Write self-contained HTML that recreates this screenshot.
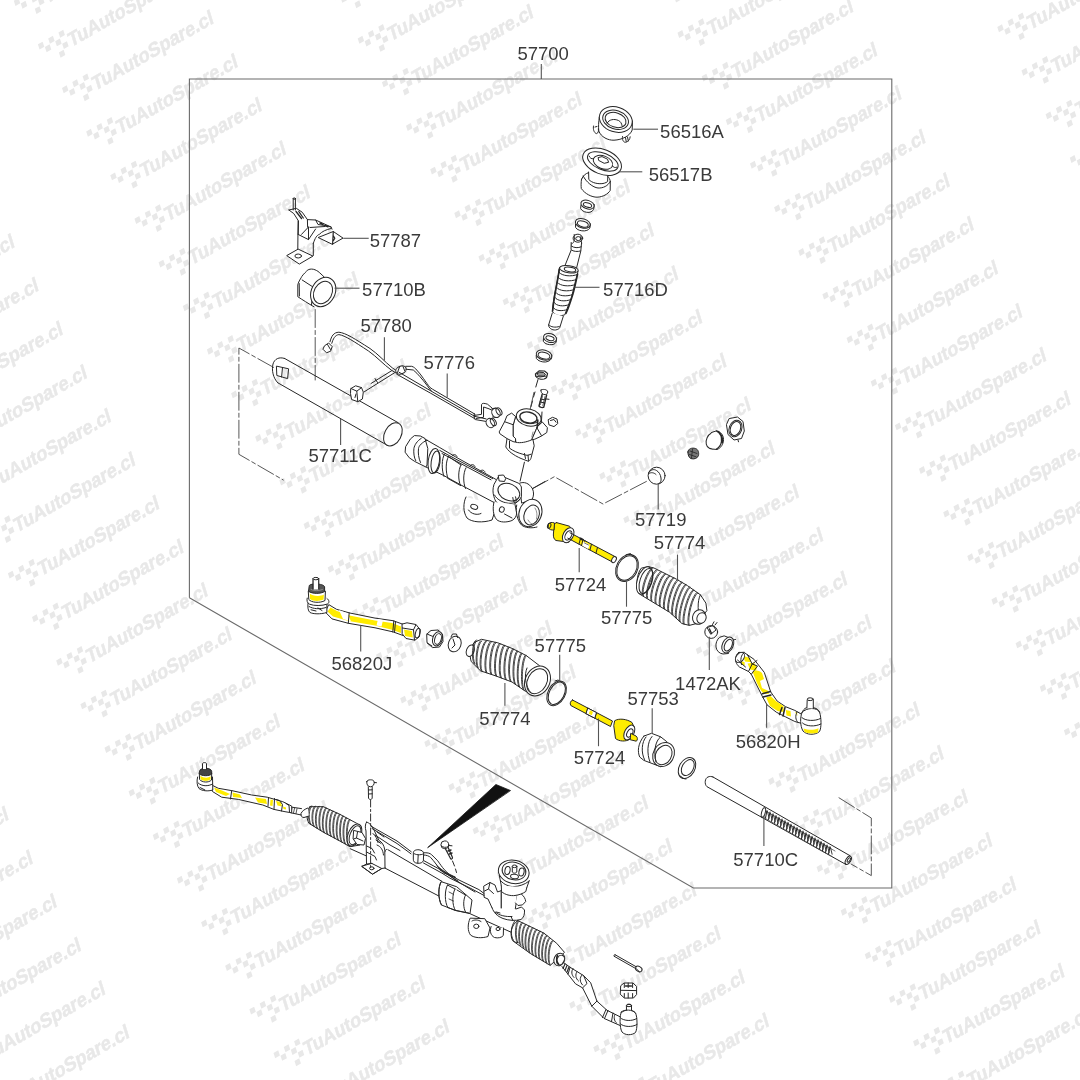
<!DOCTYPE html>
<html><head><meta charset="utf-8"><style>
html,body{margin:0;padding:0;background:#fff;width:1080px;height:1080px;overflow:hidden}
svg{position:absolute;left:0;top:0;display:block}
text{font-family:"Liberation Sans",sans-serif}
</style></head><body>
<svg width="1080" height="1080" viewBox="0 0 1080 1080">
<defs>
<filter id="gs" x="0" y="0" width="1" height="1" color-interpolation-filters="sRGB"><feColorMatrix type="saturate" values="0"/></filter>
<g id="wm" fill="#e8e8e8"><polygon points="-3.22,-1.24 1.52,-3.96 3.22,1.24 -1.52,3.96"/><polygon points="7.08,-7.14 11.82,-9.86 13.52,-4.66 8.78,-1.94"/><polygon points="17.38,-13.04 22.12,-15.76 23.82,-10.56 19.08,-7.84"/><polygon points="3.78,1.46 8.52,-1.26 10.22,3.94 5.48,6.66"/><polygon points="14.08,-4.44 18.82,-7.16 20.52,-1.96 15.78,0.76"/><polygon points="21.08,-1.74 25.82,-4.46 27.52,0.74 22.78,3.46"/><polygon points="17.78,6.86 22.52,4.14 24.22,9.34 19.48,12.06"/><text transform="matrix(0.8678,-0.4970,0.2924,0.9563,0,0)" x="28.4" y="16.8" font-size="20.0" font-weight="bold" stroke="#e8e8e8" stroke-width="0.45" textLength="138.0" lengthAdjust="spacingAndGlyphs">TuAutoSpare.cl</text></g>
</defs>
<rect width="1080" height="1080" fill="#fff"/>
<g filter="url(#gs)">
<use href="#wm" x="-188.0" y="798.4"/>
<use href="#wm" x="-163.8" y="842.0"/>
<use href="#wm" x="-139.7" y="885.6"/>
<use href="#wm" x="-115.5" y="929.2"/>
<use href="#wm" x="-91.4" y="972.8"/>
<use href="#wm" x="-67.2" y="1016.4"/>
<use href="#wm" x="-43.1" y="1060.0"/>
<use href="#wm" x="-18.9" y="1103.6"/>
<use href="#wm" x="-182.1" y="225.8"/>
<use href="#wm" x="-157.9" y="269.4"/>
<use href="#wm" x="-133.8" y="313.0"/>
<use href="#wm" x="-109.7" y="356.6"/>
<use href="#wm" x="-85.5" y="400.2"/>
<use href="#wm" x="-61.3" y="443.8"/>
<use href="#wm" x="-37.2" y="487.4"/>
<use href="#wm" x="-13.1" y="531.0"/>
<use href="#wm" x="11.1" y="574.6"/>
<use href="#wm" x="35.2" y="618.2"/>
<use href="#wm" x="59.4" y="661.8"/>
<use href="#wm" x="83.6" y="705.4"/>
<use href="#wm" x="107.7" y="749.0"/>
<use href="#wm" x="131.8" y="792.6"/>
<use href="#wm" x="156.0" y="836.2"/>
<use href="#wm" x="180.1" y="879.8"/>
<use href="#wm" x="204.3" y="923.4"/>
<use href="#wm" x="228.4" y="967.0"/>
<use href="#wm" x="252.6" y="1010.6"/>
<use href="#wm" x="276.7" y="1054.2"/>
<use href="#wm" x="300.9" y="1097.8"/>
<use href="#wm" x="-7.2" y="-41.6"/>
<use href="#wm" x="17.0" y="2.0"/>
<use href="#wm" x="41.1" y="45.6"/>
<use href="#wm" x="65.2" y="89.2"/>
<use href="#wm" x="89.4" y="132.8"/>
<use href="#wm" x="113.5" y="176.4"/>
<use href="#wm" x="137.7" y="220.0"/>
<use href="#wm" x="161.8" y="263.6"/>
<use href="#wm" x="186.0" y="307.2"/>
<use href="#wm" x="210.1" y="350.8"/>
<use href="#wm" x="234.3" y="394.4"/>
<use href="#wm" x="258.4" y="438.0"/>
<use href="#wm" x="282.6" y="481.6"/>
<use href="#wm" x="306.8" y="525.2"/>
<use href="#wm" x="330.9" y="568.8"/>
<use href="#wm" x="355.1" y="612.4"/>
<use href="#wm" x="379.2" y="656.0"/>
<use href="#wm" x="403.4" y="699.6"/>
<use href="#wm" x="427.5" y="743.2"/>
<use href="#wm" x="451.6" y="786.8"/>
<use href="#wm" x="475.8" y="830.4"/>
<use href="#wm" x="499.9" y="874.0"/>
<use href="#wm" x="524.1" y="917.6"/>
<use href="#wm" x="548.2" y="961.2"/>
<use href="#wm" x="572.4" y="1004.8"/>
<use href="#wm" x="596.5" y="1048.4"/>
<use href="#wm" x="620.7" y="1092.0"/>
<use href="#wm" x="312.6" y="-47.4"/>
<use href="#wm" x="336.8" y="-3.8"/>
<use href="#wm" x="360.9" y="39.8"/>
<use href="#wm" x="385.1" y="83.4"/>
<use href="#wm" x="409.2" y="127.0"/>
<use href="#wm" x="433.4" y="170.6"/>
<use href="#wm" x="457.5" y="214.2"/>
<use href="#wm" x="481.7" y="257.8"/>
<use href="#wm" x="505.8" y="301.4"/>
<use href="#wm" x="530.0" y="345.0"/>
<use href="#wm" x="554.1" y="388.6"/>
<use href="#wm" x="578.2" y="432.2"/>
<use href="#wm" x="602.4" y="475.8"/>
<use href="#wm" x="626.5" y="519.4"/>
<use href="#wm" x="650.7" y="563.0"/>
<use href="#wm" x="674.9" y="606.6"/>
<use href="#wm" x="699.0" y="650.2"/>
<use href="#wm" x="723.2" y="693.8"/>
<use href="#wm" x="747.3" y="737.4"/>
<use href="#wm" x="771.5" y="781.0"/>
<use href="#wm" x="795.6" y="824.6"/>
<use href="#wm" x="819.8" y="868.2"/>
<use href="#wm" x="843.9" y="911.8"/>
<use href="#wm" x="868.0" y="955.4"/>
<use href="#wm" x="892.2" y="999.0"/>
<use href="#wm" x="916.3" y="1042.6"/>
<use href="#wm" x="940.5" y="1086.2"/>
<use href="#wm" x="632.4" y="-53.2"/>
<use href="#wm" x="656.6" y="-9.6"/>
<use href="#wm" x="680.7" y="34.0"/>
<use href="#wm" x="704.9" y="77.6"/>
<use href="#wm" x="729.0" y="121.2"/>
<use href="#wm" x="753.2" y="164.8"/>
<use href="#wm" x="777.3" y="208.4"/>
<use href="#wm" x="801.5" y="252.0"/>
<use href="#wm" x="825.6" y="295.6"/>
<use href="#wm" x="849.8" y="339.2"/>
<use href="#wm" x="873.9" y="382.8"/>
<use href="#wm" x="898.1" y="426.4"/>
<use href="#wm" x="922.2" y="470.0"/>
<use href="#wm" x="946.4" y="513.6"/>
<use href="#wm" x="970.5" y="557.2"/>
<use href="#wm" x="994.7" y="600.8"/>
<use href="#wm" x="1018.8" y="644.4"/>
<use href="#wm" x="1043.0" y="688.0"/>
<use href="#wm" x="1067.1" y="731.6"/>
<use href="#wm" x="1091.2" y="775.2"/>
<use href="#wm" x="952.2" y="-59.0"/>
<use href="#wm" x="976.4" y="-15.4"/>
<use href="#wm" x="1000.5" y="28.2"/>
<use href="#wm" x="1024.7" y="71.8"/>
<use href="#wm" x="1048.8" y="115.4"/>
<use href="#wm" x="1073.0" y="159.0"/>
<use href="#wm" x="1097.1" y="202.6"/>
</g>
<g id="parts" fill="none" stroke="#262626" stroke-width="1" stroke-linejoin="round" stroke-linecap="round">
<!-- 56516A -->
<g id="p56516A">
<path d="M599.3,117 C598.6,122 598.3,127 598.8,131 C601,137 608,140.5 614,140.2 C622,139.8 630,136 632.2,130 L632.5,121" fill="#fff"/>
<ellipse cx="615.8" cy="119.5" rx="16.8" ry="12.4" transform="rotate(18 615.8 119.5)" fill="#fff"/>
<ellipse cx="615.6" cy="119.8" rx="13.2" ry="9.2" transform="rotate(18 615.6 119.8)"/>
<ellipse cx="615.6" cy="120" rx="10.8" ry="7.2" transform="rotate(18 615.6 120)"/>
<path d="M607.2,123 C609,119.5 614,118.5 618.5,120.5 C620.5,121.5 621.8,123.5 622,125.5"/>
<path d="M593.5,126 C592.8,129 594,133 596.5,133.6 C598.2,133.4 598.8,131 598.4,129"/>
<path d="M595,127 L597,126.5"/>
<path d="M622.5,136.5 C622,139.5 623.2,142.3 625.5,142.3 C628,142 630,139.5 630.2,136.8"/>
<path d="M625.5,137.5 L626.2,141.5 M627.5,137 L628.3,141"/>
</g>
<!-- 56517B -->
<g id="p56517B">
<path d="M581.5,179 C581,183 581,186 581.3,188.5 C585,194 592,197.2 597,197.2 C603,197 608,194 610.2,190.5 L610.3,181.5" fill="#fff"/>
<path d="M583.2,176 C586,182 593,187.5 598,188 C603,188.3 608,186 610.3,181.5"/>
<path d="M588.6,172 L588.8,179.5 C592,183 598,184.2 603,183.5 C605.5,183 607.2,182 607.6,181.5 L607.8,175.5" fill="#fff"/>
<path d="M581.8,179 C582.5,176 585.5,173.5 588.6,172.6 M607.7,176.3 C609,177.5 610.2,179.5 610.3,181.5"/>
<ellipse cx="602.1" cy="161.7" rx="20.3" ry="12.3" transform="rotate(22 602.1 161.7)" fill="#fff"/>
<ellipse cx="602.8" cy="161.4" rx="16.2" ry="8.2" transform="rotate(22 602.8 161.4)"/>
<ellipse cx="603" cy="162.3" rx="10.2" ry="6.4" transform="rotate(22 603 162.3)"/>
<path d="M598.5,157.5 L602,156.6 L607.5,159.2 L608.6,162.3 L604.2,163.3 L599,160.6 Z"/>
<path d="M589,156 C590,158 591.5,159.2 593,158.8 M612.5,166 C613.5,167.5 615,168 616.8,167.2"/>
</g>
<!-- small rings -->
<g id="rings1">
<path d="M581,205 L580.6,208.5 C582,211.5 586,212.6 589,212.4 C592,212.1 593.8,210 594,207.5 L594.2,204.5" fill="#fff"/>
<ellipse cx="587.5" cy="204.6" rx="6.8" ry="4.2" transform="rotate(18 587.5 204.6)" fill="#fff"/>
<ellipse cx="587.5" cy="205" rx="4.3" ry="2.2" transform="rotate(18 587.5 205)"/>
<path d="M575.5,224 L575.6,227.5 C577,230 581,231.1 584.5,230.9 C588,230.5 590,229 590.2,226.6 L590.3,223.8" fill="#fff"/>
<ellipse cx="582.8" cy="223.4" rx="7.6" ry="4.6" transform="rotate(16 582.8 223.4)" fill="#fff"/>
<ellipse cx="582.8" cy="224" rx="5.6" ry="2.9" transform="rotate(16 582.8 224)"/>
</g>
<!-- pinion 57716D -->
<g id="p57716D">
<path d="M571.2,250 L564.4,267 M580.8,251 L576.3,269" />
<path d="M571.2,242.5 L571,249.6 C573,251.6 578,252 580.8,250.8 L581.6,242.6" fill="#fff"/>
<path d="M571.3,246 C574,248 578,248.2 581.2,246.8"/>
<ellipse cx="577.9" cy="238.2" rx="4.8" ry="4" fill="#fff"/>
<ellipse cx="578.3" cy="238.6" rx="2.6" ry="2"/>
<path d="M574.2,234.5 C574.5,240 575,242 571.6,244 M581,236 C581.2,240 581,242 581.6,243"/>
<path d="M559.6,267.4 C558.5,276 556,287 554.4,295.6 C553.5,301 552.8,307 552.4,311.5 C555,315.5 560,316.5 564.8,314.8 C567,309 569.5,302 571.5,297 C573.5,290 575.5,280 578.1,271.1" fill="#fff"/>
<ellipse cx="568.9" cy="269.2" rx="9.4" ry="3.6" transform="rotate(8 568.9 269.2)" fill="#fff"/>
<ellipse cx="570" cy="269.5" rx="5.8" ry="2.2" transform="rotate(8 570 269.5)"/>
<path d="M559.2,272.5 C562,276 571,277 577.5,274.5"/>
<path d="M558.3,277.5 C561,281 570,282 576.5,279.5"/>
<path d="M557.5,282.5 C560,286 569,287 575.5,284.5"/>
<path d="M556.6,287.5 C559,291 568,292 574.3,289.5"/>
<path d="M555.8,292.5 C558,296 566.5,297 572.8,294.5"/>
<path d="M555,297.5 C557,301 565,302 571,299.5"/>
<path d="M554.2,302.5 C556,306 563.5,307 569.3,304.5"/>
<path d="M553.4,307.5 C555,311 562,311.5 567.5,309.5"/>
<path d="M559.3,269 C558.3,277 556.3,287 554.6,296 C553.6,302 553,307 552.6,311" stroke-width="1.7"/>
<path d="M577.6,274 C576,282 574.5,289 572.5,295.5 C570.5,302 568.5,308 566,313.5" stroke-width="1.5"/>
<path d="M552.3,313 L548.6,325 C548.6,328 552,330.3 555.5,330 C558,329.6 559.5,328.4 559.7,327.8 L563.3,316.3" fill="#fff"/>
<path d="M548.9,324.8 C550.5,327.2 555.5,327.8 559.3,326.5"/>
</g>
<!-- washers / nut / bolt below pinion -->
<g id="w2">
<path d="M543.5,338.5 L543.3,341.5 C545,344 549,345 552,344.7 C555,344.2 556.5,342.5 556.5,340.5 L556.6,337.8" fill="#fff"/>
<ellipse cx="550" cy="338" rx="6.6" ry="4.4" transform="rotate(16 550 338)" fill="#fff"/>
<ellipse cx="550" cy="338.3" rx="4.2" ry="2.2" transform="rotate(16 550 338.3)"/>
<path d="M536.2,355.5 L536.4,358.5 C538,361 542,362.2 545.5,362 C549,361.5 551.5,359.8 551.7,357.5 L551.8,355.2" fill="#fff"/>
<ellipse cx="544" cy="355" rx="7.9" ry="5" transform="rotate(14 544 355)" fill="#fff"/>
<ellipse cx="544" cy="355.6" rx="6" ry="3.3" transform="rotate(14 544 355.6)"/>
<path d="M535.4,374 L535.6,376 C537,378.6 541,379.5 544,379 C546,378.5 547,377.5 547,376 L547.6,373.5 L544.5,371 L539,370.8 Z" fill="#fff" stroke-width="1.1"/>
<path d="M537,373.8 L539.5,372.2 L543.6,372.5 L545.5,374.5 L543.5,376.2 L539.2,376 Z" fill="#999"/>
<path d="M535.6,376 L540,377 L546.5,376" />
<path d="M538,379.5 L535.8,387 M535,392 L533.5,397 M532.5,401 L531,406.5 M530.5,409.5 L529.8,412" stroke-width="1"/>
<path d="M541,390 C540.5,391.5 541.5,393.5 543.8,394.5 C546,395 547.6,394 547.8,392 C547.6,390.5 546.2,389.6 544.6,389.5 C543,389.3 541.4,389.6 541,390 Z" fill="#fff"/>
<path d="M542.2,394.2 L539,406 M546.6,395 L543.8,407.2 M539,406 C540,407.5 542.5,407.8 543.8,407.2" stroke-width="1.4"/>
<path d="M542.5,396 L540.5,404.5 M545,396.5 L542.8,405.5" stroke="#666" stroke-width="1"/>
<path d="M540.5,399 L545.5,400 M540,402 L544.8,403 M546.5,399 L549,399.3"/>
</g>

<!-- bracket 57787 -->
<g id="p57787">
<path d="M293.2,198.6 L293.2,210 M295.4,198.6 L295.4,210" />
<ellipse cx="294.3" cy="198.6" rx="1.2" ry="0.7"/>
<path d="M288.9,210 L293.8,213.6 L298.5,221 L298.2,234.4 M288.9,210 L296.3,208.3 L302.2,212.2 L307.4,219.6 L307.6,227" />
<path d="M296,211.5 L301.5,218.5 M298.8,211.5 L303.3,218" stroke-width="1.3"/>
<path d="M298.1,221.1 L297.8,249.3 M297.8,249.3 L286.7,255.6 L299.3,264.1 L312.6,256.3 Z" fill="#fff"/>
<ellipse cx="298.2" cy="256" rx="3.3" ry="2" />
<path d="M313.3,243.5 L313.3,255.5 M313.3,243.5 C315,238 317,235 319.3,234.4 C322,231.5 326,229.6 331.1,228.5"/>
<path d="M307.4,219.6 L315.6,220 L331.1,227 L332,229.2 M308.5,227 L308.5,239.6 L298.1,234.4 M301.5,234.4 L308.5,227 M308.5,239.6 L315.6,229 M310,227.5 L325,226.5 M315.6,220 L318,224.5 L327,225.8 L331.1,227"/>
<path d="M320,223 L323,224.5 M325,225.5 L328,226.8" stroke-width="1.4"/>
<path d="M318.5,237.4 L333.3,231.5 L343,238.1 L332.6,244.1 Z" fill="#fff"/>
<path d="M333.3,231.5 L332.6,244.1 M333.5,236 L334.8,238.3 L333.5,240.5" stroke-width="1.2"/>
</g>
<!-- bushing 57710B -->
<g id="p57710B">
<path d="M324.4,277.2 C321,274 318,271 316.7,270.6 C314.5,269.3 312,268.8 310,269.2 C308.5,269.5 307,270.3 306.7,271.1 C304,273.5 301.5,276.5 301.1,277.8 C299,281 298,283.5 297.8,285 L297.8,296.7 C302,299.5 309,304 313.9,306.7" fill="#fff"/>
<path d="M302.2,280 L313.3,287.2 L311.5,304.8"/>
<path d="M299.2,283.5 L299.4,296"/>
<ellipse cx="323.2" cy="292" rx="11.8" ry="15.3" transform="rotate(28 323.2 292)" fill="#fff"/>
<ellipse cx="323" cy="292.5" rx="8.9" ry="11.8" transform="rotate(28 323 292.5)"/>
</g>
<!-- dashed guide lines -->
<g id="dashes" stroke="#444" stroke-width="0.9" stroke-dasharray="18,3,4,3">
<path d="M315.2,309.5 L315.2,380"/>
<path d="M273.6,367.4 L238.9,348 L238.9,454.3 L283.3,480"/>
<path d="M530,410 L534.5,390"/>
<path d="M532.2,488.9 L554.4,476.7 L603,504 L648.6,480.3"/>
</g>
<!-- tube 57711C -->
<g id="p57711C">
<path d="M284.7,358.5 L398.3,422.8 M277.8,382.8 L387.8,445.6"/>
<path d="M284.7,358.5 C279,356.5 274.5,359 273,364 C271.5,370 273,378 277.8,382.8"/>
<path d="M276.8,366.2 L288.6,368.8 L287.6,378.6 L277.2,375.6 Z M282.5,367.5 L281.6,377" />
<ellipse cx="392.9" cy="434.3" rx="8.3" ry="12.4" transform="rotate(28 392.9 434.3)" fill="#fff"/>
<!-- clip on tube -->
<path d="M351,388.5 L355.6,385.8 L361.5,387.6 L363.3,392 L362.4,399 L357.8,401.7 L351.6,399.5 L350.6,394 Z" fill="#fff"/>
<path d="M351,388.5 L356.8,391.2 L361.5,387.6 M356.8,391.2 L357.8,401.7 M356,394 L355,397.5"/>
</g>
<!-- hoses 57780 / 57776 -->
<g id="hoses">
<path d="M330,341.7 C331.5,336 333.5,332.5 338.9,332.2 C346,333 355,339 370,348.5 C378,354 384,361 392.2,367.8 L397,371"/>
<path d="M331.8,343.3 C333,339 335,335 338.9,334.6 C345,335.5 354,341.5 368.5,351 C377,357 383,364 391.2,370 L396,373"/>
<path d="M324.8,345.6 L328.6,343 L332.2,346.6 L330.6,351.2 L326.5,352.8 L323.2,349.5 Z" fill="#fff"/>
<path d="M327.5,344.5 L330.5,349.5"/>
<path d="M394.5,372.8 L364.4,391.7 M392,370.5 L371,383.5 M375,378.5 L377.5,382.5"/>
<ellipse cx="401" cy="370" rx="5.5" ry="3.8" transform="rotate(-25 401 370)" fill="#fff"/>
<path d="M399.5,367 L397.5,372.5 M403,366.5 L404.8,371"/>
<path d="M405.8,366.3 L411.7,366.3 C414,367 415.5,368.5 416.7,370 C419,372.5 421.5,375.5 423.3,378.3 C425.5,381.5 428,385 430,387.5 L432.5,389.2 L475,414.2"/>
<path d="M405.8,369.2 L413.3,370 C416,372 418,374.5 420,376.7 C422.5,379.5 424.5,382 426.7,385 L431.5,391.3 L474.5,416.2"/>
<path d="M396.7,374.2 L430.8,393.3 L474.2,418.3 M399,372.2 L431.5,391.3"/>
<path d="M474.2,413.6 L474.4,419"/>
<!-- end fittings -->
<path d="M474,415.5 L481.5,414.3 L481.5,404.6 C482,403 484,403 487.5,404.2 L492,408"/>
<path d="M476,418.5 L483.5,417.3 L483.6,407 L489,408.8 L492.5,410.5"/>
<path d="M474,416.2 L486.1,418.9 M475.5,419.6 L486.5,421.5"/>
<ellipse cx="496" cy="412.9" rx="4" ry="4.8" transform="rotate(-30 496 412.9)" fill="#fff"/>
<path d="M491.9,408.7 L496,408 M492.5,417 L497,417.5"/>
<ellipse cx="499" cy="411.5" rx="2.5" ry="4" transform="rotate(-30 499 411.5)"/>
<ellipse cx="490.3" cy="423" rx="4" ry="4.8" transform="rotate(-30 490.3 423)" fill="#fff"/>
<ellipse cx="493.3" cy="422" rx="2.5" ry="4" transform="rotate(-30 493.3 422)"/>
</g>

<!-- rack housing upper -->
<g id="rackU">
<!-- lugs below -->
<path d="M466,497 C463,503 463,512 467,518 C472,522.5 483,523 492,520 L497,505" fill="#fff"/>
<ellipse cx="474.2" cy="506.8" rx="3.6" ry="2.3" transform="rotate(20 474.2 506.8)"/>
<path d="M468.5,510 C471,514 477,515.5 481,513.5"/>
<!-- main tube -->
<path d="M420.4,436.2 L439.8,447.6 L455.6,456.9 L495.9,479.4 L520,492 L519,505 L494.6,502.8 L460.2,484.6 L443.5,475.4 L425.9,467 Z" fill="#fff" stroke="none"/>
<path d="M420.4,436.4 L439.8,447.6 L455.6,456.9 L495.9,479.4 M425.9,467 L443.5,475.4 L460.2,484.6 L494.6,502.8"/>
<path d="M439.8,450.4 L449,455.5 L492.6,478.6 M442,453.5 L491,479.8"/>
<path d="M452,456 C453,454 456,454 457,456.5 M470,466 C471,464 474,464 475,466.5 M480,471.5 C481,469.5 484,469.5 485,472" />
<!-- left end -->
<path d="M414.8,435.6 L420.4,436 L425,438.5 L427.8,448.5 L427,465 L425.9,467 L414.8,461.5 L409.3,457.8 L405.1,452.2 L405.6,446.7 L410.2,439.3 Z" fill="#fff"/>
<path d="M421.3,438.3 C417,441 414.5,445 413.9,448.5 C413.5,453 414,457.5 415.7,460.6"/>
<path d="M426.9,440.2 C422,442.5 419,445.5 418.5,448.5 C418,453 418.5,458 420.5,462.5"/>
<ellipse cx="433.8" cy="461" rx="5.6" ry="12.6" transform="rotate(8 433.8 461)" fill="#fff"/>
<ellipse cx="435.6" cy="462" rx="4.4" ry="11" transform="rotate(8 435.6 462)"/>
<path d="M444.5,454 C441.5,459 441.5,470 444,476.5 M448.5,456.5 C445.5,461.5 445.5,472 448,478.5"/>
<path d="M461,465 C458,470 458,480 460.5,485.5 M466,467.8 C463,473 463,483 465.5,488.5"/>
<path d="M448.5,456.5 L461,465 M448,478.5 L460.5,485.5" />
<!-- pinion boss -->
<path d="M519.8,483.1 C524,481.5 529,483 532.4,488.6 C534,492 534,496 532,499.6 L522,503 Z" fill="#fff"/>
<path d="M532.4,488.6 L545,481.5"/>
<path d="M493.9,484.7 C492.5,489 492.8,493 493.9,496.5 C494.5,499 495.5,500.8 496.2,502 C498.5,504 501,505.3 504.1,505.9 C508,506.5 512,505.5 515.1,503.6 C518,501.5 520.5,499 521.4,496.5 L521.4,487 C520.5,485 519.5,483.8 518.3,483.1 L505,477.5 L498.6,477 Z" fill="#fff"/>
<path d="M498.6,475.4 L503.5,475 L505.7,478.5 L504.5,481.5 L499.5,481 Z" fill="#fff"/>
<ellipse cx="508.8" cy="492.1" rx="11.4" ry="8.2" transform="rotate(25 508.8 492.1)" fill="#fff"/>
<path d="M494.5,495 C497,500 504,503.5 511,503.3 C515,503 518,501.5 520,499.5"/>
<path d="M512.8,497.5 L513.5,501.5 L516.5,500.5 L515.5,496.8"/>
<!-- lug middle -->
<path d="M494,502 C492.5,508 493,515 496.5,519.5 C500,522.8 507,522.5 512,520.5 C515,519 516.5,516 516.7,513 L515,504.5" fill="#fff"/>
<ellipse cx="501.8" cy="509.5" rx="2.4" ry="2.8" transform="rotate(20 501.8 509.5)"/>
<path d="M504.5,514 L512,518"/>
<!-- right end -->
<path d="M516.7,505 C515.5,512 517,520 521.5,525 C525,528 532,528.5 537,527" fill="#fff"/>
<ellipse cx="530.4" cy="513" rx="11.2" ry="14" transform="rotate(22 530.4 513)" fill="#fff"/>
<ellipse cx="531.6" cy="515" rx="7.4" ry="10.2" transform="rotate(22 531.6 515)"/>
<path d="M528,520 C529.5,523 532,524.5 534,524.5 M535,508 C537,511 537.5,515 536.5,519" stroke="#777" stroke-width="0.8"/>
</g>
<!-- valve housing -->
<g id="valve">
<path d="M520.1,481.1 L524.4,462.2"/>
<path d="M507,438.6 L505.8,447 C508,450.5 510.5,452.5 513.1,454.2 C516.5,456.5 520,458.2 523.9,459.6 L528.7,461.4 C530,460.2 530.8,459 531.1,457.8 L532.3,453 L534.2,445.8 L533,439.8" fill="#fff"/>
<path d="M509.5,441 L509.5,448.2 C513.5,451 518,453 522.7,454.2 C524.5,454.8 526,455.2 527.5,455.4 L531.1,454.2"/>
<path d="M524.5,453.5 L525.5,458.5 M528,455 L528.5,460.5"/>
<path d="M515.5,416.9 L513.1,425.3 L513.1,436.1 L515.5,438.6 L515.8,442.2 C520,443.5 527,442 531.7,439.8 L537.2,427.1 L541.4,422.3 L542,412" fill="#fff"/>
<path d="M511.3,413.3 L507,415.7 L504.6,421.7 L499.2,431.9 L499.8,433.7 L507,438.6 L513.1,441.6 L515.5,442.2 L515.5,438.6 L513.1,436.1 L513.1,425.3 L515.5,416.9 Z" fill="#fff"/>
<path d="M504.6,421.7 L513.1,424.7"/>
<path d="M542.6,422.3 L547.4,427.7 L546.8,432.5 L541.4,436.1 L534.8,439.2 L531.7,439.8 L537.2,427.1 Z" fill="#fff"/>
<path d="M537.2,428.3 L541.4,435.5"/>
<path d="M533,432 L531.8,437" stroke="#888"/>
<ellipse cx="528.7" cy="417.5" rx="12.6" ry="8.4" transform="rotate(12 528.7 417.5)" fill="#fff"/>
<ellipse cx="528.4" cy="417.5" rx="8.7" ry="5.4" transform="rotate(12 528.4 417.5)" stroke-width="1.4"/>
<path d="M520,419.5 C522.5,423.5 531,425 536.5,422.5"/>
<path d="M537.8,420 L537.2,427.5" stroke-width="1.6"/>
<path d="M548.5,419.5 L552.5,417.3 L557,419 L557.8,423.5 L554,426.6 L549.3,425 Z" fill="#fff"/>
<path d="M550.5,420.5 L554,419.5 L556,422.2"/>
</g>

<!-- 57719 ball & adjuster stack -->
<g id="p57719">
<circle cx="656.6" cy="475.7" r="8.5" fill="#fff"/>
<path d="M648.6,473 C650,469.5 654,468.8 656.5,470.5 C659,472 660.5,474.5 661,478 C661.5,481 660.5,483 658.5,484"/>
<path d="M649,473.5 C651,472 654,472.5 656,474.5"/>
<path d="M687.9,452 C688,448.5 692,447.5 695.5,448.5 C698.5,449.5 699,453 698.5,455.5 C697.5,458.5 694,459.5 691,458.6 C689,457.8 687.8,455 687.9,452 Z" fill="#777"/>
<path d="M690,451 L697,453.5 M689.5,454.5 L696,456.8 M692.5,449 L691.5,458" stroke="#222" stroke-width="0.8"/>
<ellipse cx="713" cy="440.5" rx="6.5" ry="8.6" transform="rotate(25 713 440.5)" fill="#fff"/>
<path d="M711.5,432.5 L716.5,430.8 C720.5,431.5 723.5,435 723.5,439.5 C723.5,444 721,448 717,449.5 L711.8,449" fill="#fff"/>
<path d="M716.5,431 C720,433 722,437 721.5,441.5 C721,445 719,447.5 716.5,449 M718.2,431.5 C721.5,434 723,438 722.5,442.5" stroke-width="1.3"/>
<path d="M729.5,418.5 L737.5,417 L743,421.5 L744.3,431 L741.5,438.5 L734,440 L728,434.5 L726.5,425 Z" fill="#fff"/>
<ellipse cx="735.5" cy="428.5" rx="6.3" ry="8.5" transform="rotate(20 735.5 428.5)"/>
<ellipse cx="735.5" cy="428.5" rx="5" ry="7.2" transform="rotate(20 735.5 428.5)"/>
<path d="M738,440 L738.5,441.8"/>
</g>
<!-- inner tie rod 57724 upper -->
<g id="p57724a">
<path d="M570,532.8 L614.5,556.3 L612.3,562 L567.8,538.2 Z" fill="#ffec00" stroke="none"/>
<path d="M556.5,522.6 L569.5,526.2 L572,530 L569,542.2 L556,540.5 C554,539.5 553.2,537 553.4,534 L554.2,525.5 C554.5,523.8 555.3,522.8 556.5,522.6 Z" fill="#ffec00"/>
<path d="M548.6,523.8 C549.5,522.3 552,522 554.5,523 L554,530 C551.5,530.3 549,529.5 548.4,528 Z" fill="#ffec00"/>
<ellipse cx="549.2" cy="525.8" rx="1.6" ry="2.6" transform="rotate(20 549.2 525.8)"/>
<ellipse cx="568.2" cy="535.2" rx="5" ry="8" transform="rotate(28 568.2 535.2)" fill="#fff"/>
<ellipse cx="568.4" cy="535.4" rx="3" ry="5" transform="rotate(28 568.4 535.4)"/>
<path d="M570,532.8 L614.5,556.3 M567.8,538.2 L612.3,562"/>
<ellipse cx="614" cy="559.6" rx="2.1" ry="3.3" transform="rotate(28 614 559.6)" fill="#fff"/>
<path d="M580.5,538.5 L579,544 M583,539.8 L581.5,545.3 M585,540.8 L583.5,546.3 M591.5,544.2 L590,549.8 M597.5,547.4 L596,553" />
<path d="M583.5,541.5 L589.5,544.7 L588.2,549 L582.2,545.8 Z" fill="#fff" stroke="none"/>
<path d="M584.5,543 L588.5,545" stroke="#555" stroke-width="0.8"/>
<path d="M580.5,538.5 L583,539.8" stroke-width="2"/>
</g>
<!-- ring 57775 upper -->
<g id="p57775a">
<ellipse cx="627" cy="568" rx="10.5" ry="14.2" transform="rotate(28 627 568)"/>
<ellipse cx="627" cy="568" rx="9.3" ry="13" transform="rotate(28 627 568)"/>
<path d="M626,554.8 L630.5,553.5 L632.5,556"/>
</g>
<!-- boot 57774 upper -->
<g id="p57774a">
<path d="M648.5,566.6 L654,568 L676.3,579.1 L687.4,585.6 L700.4,594.8 L705.9,603.1 L706.9,610.6 L696.7,623.5 L689.3,625.4 L681.9,623.5 L669.8,612.4 L639.3,593.9 C636,588 636,575 641,568.5 Z" fill="#fff"/>
<ellipse cx="644.5" cy="580.5" rx="7.2" ry="14.2" transform="rotate(18 644.5 580.5)" fill="#fff"/>
<ellipse cx="646" cy="581" rx="6" ry="13" transform="rotate(18 646 581)"/>
<path d="M652.0,567.9 C647.1,570.1 640.4,589.1 642.5,595.1 M652.9,568.4 C647.9,570.5 641.3,589.6 643.4,595.6 M656.2,569.9 C651.3,572.1 644.7,591.7 646.7,597.8 M657.1,570.4 C652.2,572.6 645.5,592.1 647.6,598.3 M660.4,571.8 C655.5,574.2 648.9,594.2 651.0,600.5 M661.3,572.3 C656.4,574.7 649.8,594.7 651.8,601.0 M664.7,573.8 C659.8,576.2 653.2,596.8 655.2,603.2 M665.5,574.3 C660.6,576.7 654.0,597.3 656.1,603.7 M668.9,575.7 C664.0,578.3 657.4,599.4 659.5,605.9 M669.8,576.2 C664.9,578.8 658.3,599.9 660.3,606.4 M673.1,577.7 C668.2,580.3 661.6,601.9 663.7,608.5 M674.0,578.1 C669.1,580.8 662.5,602.4 664.6,609.0 M677.3,579.7 C672.4,582.5 665.9,604.5 667.9,611.2 M678.2,580.2 C673.3,583.0 666.7,605.0 668.8,611.7 M681.3,582.1 C676.4,584.9 669.8,607.5 671.9,614.3 M682.2,582.5 C677.3,585.4 670.7,608.0 672.8,614.8 M685.4,584.4 C680.4,587.4 673.6,610.7 675.6,617.7 M686.2,584.9 C681.3,587.9 674.4,611.2 676.5,618.2 M689.2,587.0 C684.3,590.1 677.3,614.0 679.3,621.1 M690.1,587.5 C685.1,590.6 678.2,614.5 680.2,621.6 M693.0,589.8 C688.0,592.9 681.3,616.7 683.3,623.8 M693.8,590.2 C688.9,593.4 682.2,617.2 684.2,624.3 M696.7,592.5 C692.0,595.4 686.1,617.9 688.3,624.7 M697.6,593.0 C692.8,595.9 686.9,618.4 689.2,625.2" stroke-width="0.85"/>
<path d="M700.4,594.8 C697,601 697.5,614 701,621"/>
<ellipse cx="699" cy="617" rx="6.3" ry="7.5" transform="rotate(25 699 617)" fill="#fff"/>
<ellipse cx="701.5" cy="618" rx="4.5" ry="5.5" transform="rotate(25 701.5 618)" fill="#fff"/>
</g>
<!-- clip 1472AK & nut -->
<g id="p1472AK">
<circle cx="711.2" cy="632" r="6.4" fill="#fff"/>
<path d="M707.5,627.5 L713,625.5 L716,630 L711,634 Z M712.5,624.5 L714,621.8 M715,625 L717,622.5"/>
<path d="M709.5,629 L711.5,633.5" stroke-width="1.4"/>
<path d="M719.5,637.5 C717,639.5 715.5,643 716,647 C716.5,650.5 719,653.5 723,654 L728.5,653.5 L731,638.5 L724.5,636 Z" fill="#fff"/>
<ellipse cx="727.8" cy="645" rx="5.4" ry="8.3" transform="rotate(25 727.8 645)" fill="#fff"/>
<ellipse cx="728.3" cy="645.2" rx="3.6" ry="6.2" transform="rotate(25 728.3 645.2)"/>
<path d="M733,640 L735.5,639.5"/>
</g>
<!-- tie rod end 56820H -->
<g id="p56820H">
<path d="M738.8,652.5 L743.9,652.3 L754.1,659.4 L764.3,672.4 L770.7,691.9 L777.2,701.1 L785.6,706.7 L794.8,710.4 L802,714.5 L803.5,726 L801.3,723.3 L794.8,721.5 L785.6,716.9 L776.3,712.2 L767,704.8 L762.4,696.5 L751.3,674.3 L748.5,671.5 L739.3,666.9 C736,664 735,660 735.6,658.5 C736,655.5 737,653.5 738.8,652.5 Z" fill="#fff"/>
<path d="M743,655.7 L750,658 L751.3,662.2 L745,661.5 Z M741,661.3 L744.5,662 L744.8,665.5 L741.5,664.5 Z M747.6,663.5 L754,662.8 L757,667 L756,670.6 L750,669.5 Z M752.5,671.5 C756,669.5 760,670.5 762,673 L764,679 L760,681 L762,688 L768.5,691 L769,693.7 L764,694 C760,690 757,684 755,678 Z M766.1,697.5 L770.5,696 L776.5,701.5 L783.5,706 L783.7,712 L777.5,711 L770,706 Z M785.8,710 L790.5,711 L791,716.5 L786.5,715.5 Z M795,712 L797,712.5 L797.5,716 Z M803.5,728.5 C808,730 814,730.3 818.5,728.3 L818,732.5 C813,734 807,733.5 804.5,732 Z" fill="#ffec00" stroke="none"/>
<ellipse cx="740" cy="657.5" rx="3.8" ry="5.6" transform="rotate(35 740 657.5)" fill="#fff"/>
<path d="M737.5,660 L745.5,667 M744,652.6 C741,655 740,660 741.5,664.5 M747.5,654.8 L752.2,664 L748.5,671.5 M752.2,664 L757,660.5 M752.2,664 L757.5,666 L751.3,674.3"/>
<path d="M762.4,693.7 L770.5,691.5 M763,697 L771,695" stroke-width="1.5"/>
<path d="M782,707.6 L779.5,714.5 M785,707.5 L783,716" stroke-width="1.5"/>
<path d="M797,712 C795,716 795.5,720 798,722.5"/>
<path d="M802,712.5 C800,717 800,726 803,731 C806.5,735 815,735.5 819.5,731.5 C821.5,728 821.5,718 819.5,712 C817.5,707.5 806.5,707 802,712.5 Z" fill="#fff"/>
<path d="M803.5,728.5 C808,730 814,730.3 818.5,728.3 L818,732.5 C813,734 807,733.5 804.5,732 Z" fill="#ffec00" stroke="none"/>
<path d="M801.8,717.5 C805,721 815,721.5 820.5,718.5 M802.5,723 C806,726.5 815,727 820.8,724"/>
<path d="M802.5,711.5 C804,708.5 806,707.5 808,707.5 L814,707.8 C817,708.5 818.8,710 819.3,712"/>
<path d="M806.9,708 L807.2,700 C808,698 812.5,698 813.3,700 L813.3,708.5" fill="#fff"/>
<ellipse cx="810.2" cy="699.2" rx="3" ry="1.4" fill="#fff"/>
</g>

<!-- tie rod end 56820J -->
<g id="p56820J">
<path d="M329.1,604.8 L336.5,609.3 L349.8,613 L375,618.1 L393.1,620.7 L403.3,624.4 L403.3,635.6 L393.1,631.9 L375,627.8 L348.3,623.3 L332,618.9 L325.4,612.2 Z" fill="#fff"/>
<path d="M330.5,607.5 L337,611 L349.5,615.5 L375,620.5 L392,623 L401,626.5 L401,633 L392,629.8 L375,625.5 L348.5,621 L333,616.5 L327.5,611.5 Z" fill="#ffec00" stroke="none"/>
<path d="M339,610 L347.8,613.5 L351,621.5 L343,619 Z" fill="#fff" stroke="none"/>
<path d="M378,619 L383,620 L381.5,626.5 L376.5,625.5 Z" fill="#fff" stroke="none"/>
<path d="M349.2,612.8 L348.3,623.3 M393.8,620.8 L392.8,632 M395.5,621.5 L394.5,632.5"/>
<path d="M402.4,624 L407,622.8 L416,624.5 L420,629.5 L419.5,636.5 L415,640.2 L406,638.5 L402.4,634 Z" fill="#fff"/>
<path d="M402.4,628 L413.5,629.8 L415.8,625 M413.5,629.8 L414.5,640"/>
<path d="M404,629.5 L412,631 L412.8,637.5 L405,636 Z" fill="#ffec00" stroke="none"/>
<ellipse cx="417.7" cy="633.2" rx="2.2" ry="4.8" transform="rotate(15 417.7 633.2)"/>
<path d="M308,603.3 C307.5,607 308,611 310,612.5 C313,614 320,614.5 326.9,612.5 L326.9,604" fill="#fff"/>
<path d="M309,606.5 C313,609 320,609.5 326,607.5 M311,609.8 L316,611 M318,608 L322,610.5"/>
<path d="M307.2,598.1 C306.5,600.5 307.2,603 309.5,604.2 C314,606 322,606 327.5,604 C329.5,603 329.5,600 327,598.5" fill="#fff"/>
<path d="M308.3,591.5 L308.8,599.5 C311,602.5 320,603.5 325,600.5 L325.4,591.5 Z" fill="#fff"/>
<path d="M309.8,593.5 C312,596 320,597 323.9,594.5 L323.6,599.5 C320,601.5 312.5,601.5 310,599 Z" fill="#ffec00" stroke="none"/>
<path d="M309.1,586 C309,584.5 312,584 316,584 C320,584 324.5,585 324.6,587 L324.6,591.5 C321,594 312,594 308.8,591.5 Z" fill="#555"/>
<path d="M311,589.5 C314,591 319,591 322.5,589.5" stroke="#999" stroke-width="0.8"/>
<path d="M313.1,578.5 L313.1,589 M318.7,578.5 L318.7,589" stroke-width="0.9"/>
<path d="M313.3,579 L318.5,579 L318.5,589.5 L313.3,589.5 Z" fill="#fff" stroke="none"/>
<ellipse cx="315.9" cy="578.6" rx="2.8" ry="1.2" fill="#fff"/>
<path d="M313.1,579 L313.1,589 M318.7,579 L318.7,589"/>
</g>
<!-- nut & clip (left) -->
<g id="nutclipL">
<path d="M427,634 L431,630.5 L438,630 L442.5,634 L443,641.5 L439.5,647 L432.5,647.6 L427.3,643 Z" fill="#fff"/>
<ellipse cx="437.5" cy="638.8" rx="4.8" ry="7.3" transform="rotate(18 437.5 638.8)" fill="#fff"/>
<ellipse cx="438" cy="639" rx="3.2" ry="5.5" transform="rotate(18 438 639)"/>
<path d="M427,634 L432.5,636.3 M427.3,643 L432,646"/>
<ellipse cx="454.7" cy="644" rx="6.3" ry="8" transform="rotate(20 454.7 644)" fill="#fff"/>
<path d="M451,637 L452.5,634 L456.5,634 L457.5,637.5 M453,639 L455,645 L452,648"/>
</g>
<!-- boot 57774 lower -->
<g id="p57774b">
<path d="M474.4,642.3 L481.5,639.3 L497.8,642.8 L512,648.4 L526.3,655.6 L539.5,665.7 L530,693 L525.3,691.2 L512,682 L495.7,675.9 L480.5,670.8 L471.3,661.7 C469,655 470,647 474.4,642.3 Z" fill="#fff"/>
<ellipse cx="470.3" cy="650.7" rx="3.8" ry="6" transform="rotate(20 470.3 650.7)" fill="#fff"/>
<path d="M477.0,640.5 C473.2,642.1 471.8,658.6 475.0,664.0 M476.1,640.0 C472.3,641.7 470.9,658.1 474.1,663.5 M481.7,641.0 C477.7,643.2 475.2,662.1 478.2,668.0 M480.8,640.6 C476.8,642.7 474.4,661.6 477.4,667.5 M486.4,641.5 C482.2,644.1 479.1,664.9 482.0,671.3 M485.6,641.1 C481.4,643.7 478.2,664.5 481.1,670.8 M491.2,642.1 C487.0,644.8 484.0,666.4 486.8,672.9 M490.3,641.6 C486.1,644.3 483.1,665.9 486.0,672.5 M495.9,642.6 C491.7,645.5 488.8,667.9 491.7,674.6 M495.0,642.1 C490.8,645.0 487.9,667.4 490.8,674.1 M500.4,643.8 C496.3,646.8 493.6,669.5 496.6,676.2 M499.5,643.4 C495.4,646.3 492.8,669.0 495.7,675.8 M504.8,645.6 C500.8,648.6 498.4,671.3 501.4,678.0 M503.9,645.1 C499.9,648.1 497.5,670.8 500.5,677.6 M509.2,647.3 C505.3,650.3 503.2,673.1 506.2,679.8 M508.4,646.8 C504.4,649.8 502.3,672.6 505.3,679.4 M513.6,649.2 C509.7,652.2 507.9,674.9 511.0,681.6 M512.7,648.7 C508.8,651.7 507.0,674.4 510.2,681.2 M517.8,651.3 C513.9,654.4 512.3,677.5 515.4,684.3 M516.9,650.9 C513.1,653.9 511.4,677.0 514.6,683.8 M522.1,653.5 C518.2,656.6 516.5,680.2 519.7,687.1 M521.2,653.0 C517.3,656.2 515.7,679.7 518.8,686.7 M526.3,655.6 C522.4,658.9 520.8,683.0 524.0,690.0 M525.4,655.1 C521.6,658.4 519.9,682.5 523.1,689.5" stroke-width="0.85"/>
<ellipse cx="537.5" cy="681" rx="12.2" ry="15.6" transform="rotate(28 537.5 681)" fill="#fff"/>
<ellipse cx="537.2" cy="681.2" rx="9.6" ry="13.2" transform="rotate(28 537.2 681.2)"/>
<path d="M527,668 C524,675 525,686 531,693"/>
</g>
<!-- ring 57775 lower -->
<g id="p57775b">
<ellipse cx="556.6" cy="693.3" rx="8.6" ry="13.2" transform="rotate(28 556.6 693.3)"/>
<ellipse cx="556.8" cy="693.3" rx="7.4" ry="12" transform="rotate(28 556.8 693.3)"/>
<path d="M555,681 L558,680 L561.5,682"/>
</g>
<!-- inner tie rod 57724 lower -->
<g id="p57724b">
<path d="M572.5,700 L612.5,721 L610.5,726.5 L570.8,705.5 C569.5,703.5 570.5,700.8 572.5,700 Z" fill="#ffec00"/>
<path d="M588,708.2 L586.3,713.8 M590.5,709.5 L588.8,715.1 M594,711.3 L592.3,716.9 M596.5,712.6 L594.8,718.2"/>
<path d="M588,708.2 L596.5,712.6 L594.8,718.2 L586.3,713.8 Z" fill="#fff"/>
<path d="M590,710.2 L593,711.7 L591.8,715.2 L588.8,713.7 Z" fill="#ffec00" stroke="none"/>
<path d="M615,720.5 C619,718 627,719 632,722.5 L634,727 L630,739 C626,742 619,741.5 615.5,738.5 L613.8,726 Z" fill="#ffec00"/>
<ellipse cx="629.3" cy="732.5" rx="4.6" ry="8" transform="rotate(28 629.3 732.5)" fill="#fff"/>
<ellipse cx="629.8" cy="733" rx="2.6" ry="4.6" transform="rotate(28 629.8 733)"/>
<path d="M631,733.5 L636,736 C637.8,737.3 637.8,740 636.3,741.2 L630.5,739.8 Z" fill="#ffec00"/>
</g>
<!-- 57753 -->
<g id="p57753">
<path d="M643.9,736.1 L651.5,733.3 L660.6,736.8 L666.8,741.7 L668,760 L660.6,766.7 L655,764.6 L643.9,760.4 L639.7,757 C637.5,752 637.5,744 643.9,736.1 Z" fill="#fff"/>
<path d="M646,737 C641.5,742 641,753 644.5,759.5 M652,736.5 C647,742 646.8,754 650,762"/>
<ellipse cx="663.6" cy="754.5" rx="10.3" ry="12.6" transform="rotate(30 663.6 754.5)" fill="#fff"/>
<ellipse cx="663.6" cy="755" rx="7.8" ry="10.3" transform="rotate(30 663.6 755)"/>
<path d="M660.6,736.8 C655,741 653.5,752 656,762"/>
</g>
<!-- seal ring -->
<g id="sealR">
<ellipse cx="687" cy="768" rx="7.8" ry="11.2" transform="rotate(30 687 768)" fill="#fff"/>
<ellipse cx="687.8" cy="767.6" rx="5.6" ry="8.6" transform="rotate(30 687.8 767.6)"/>
<path d="M680.5,776 C682,778 684,779 686,779"/>
</g>
<!-- rack 57710C -->
<g id="p57710C">
<path d="M713,777 L850.5,856 L846,864.5 L707,786.7 C704,784 705,778 708,777 C709.5,776.2 711.5,776.3 713,777 Z" fill="#fff"/>
<ellipse cx="848.3" cy="860.3" rx="2.4" ry="4.6" transform="rotate(30 848.3 860.3)" fill="#fff"/>
<ellipse cx="848.8" cy="860" rx="1.2" ry="2.5" transform="rotate(30 848.8 860)"/>
<ellipse cx="763.4" cy="812.6" rx="1.8" ry="5" transform="rotate(15 763.4 812.6)"/>
<path d="M765.5,811 L835,851 M762,816.5 L832,856.5" stroke="#555" stroke-width="0.8"/>
<path d="M767,810.5 l-1.5,7.5 M770,812 l-1.5,7.5 M773,813.8 l-1.5,7.5 M776,815.5 l-1.5,7.5 M779,817.2 l-1.5,7.5 M782,819 l-1.5,7.5 M785,820.7 l-1.5,7.5 M788,822.4 l-1.5,7.5 M791,824.2 l-1.5,7.5 M794,826 l-1.5,7.5 M797,827.6 l-1.5,7.5 M800,829.4 l-1.5,7.5 M803,831.1 l-1.5,7.5 M806,832.8 l-1.5,7.5 M809,834.6 l-1.5,7.5 M812,836.3 l-1.5,7.5 M815,838 l-1.5,7.5 M818,839.8 l-1.5,7.5 M821,841.5 l-1.5,7.5 M824,843.2 l-1.5,7.5 M827,845 l-1.5,7.5 M830,846.7 l-1.5,7.5" stroke-width="1.1"/>
<path d="M767.5,811.5 l1.6,6.6 M770.5,813.2 l1.6,6.6 M773.5,814.9 l1.6,6.6 M776.5,816.7 l1.6,6.6 M779.5,818.4 l1.6,6.6 M782.5,820.1 l1.6,6.6 M785.5,821.8 l1.6,6.6 M788.5,823.5 l1.6,6.6 M791.5,825.3 l1.6,6.6 M794.5,827.0 l1.6,6.6 M797.5,828.7 l1.6,6.6 M800.5,830.4 l1.6,6.6 M803.5,832.1 l1.6,6.6 M806.5,833.9 l1.6,6.6 M809.5,835.6 l1.6,6.6 M812.5,837.3 l1.6,6.6 M815.5,839.0 l1.6,6.6 M818.5,840.7 l1.6,6.6 M821.5,842.5 l1.6,6.6 M824.5,844.2 l1.6,6.6 M827.5,845.9 l1.6,6.6 M830.5,847.6 l1.6,6.6" stroke-width="0.9"/>
</g>
<g id="dash2" stroke="#444" stroke-width="0.9" stroke-dasharray="18,3,4,3" fill="none">
<path d="M839,797.8 L871.3,818 L871.3,875.6 L851,864"/>
</g>

<!-- ===== bottom assembly ===== -->
<g id="bottom">
<!-- housing tube main -->
<path d="M383.8,849 L441.9,881.3 L500,913 L511.5,932.4 L441.9,897.6 L384.8,868 Z" fill="#fff" stroke="none"/>
<path d="M387.9,849.7 L441.9,881.3 M384.8,868 L441.9,897.6 L468.7,913.1 L511.5,932.4"/>
<path d="M350.2,848.7 L368.5,856.9"/>
<path d="M386.5,849.2 C383,852 382.5,862 385,868"/>
<!-- left boot -->
<path d="M310,806.7 L323.3,806.7 L340,814.4 L356.7,823.3 L361.1,826.7 L360,845 L350,846.7 L340,841.1 L323.3,832.2 L308.9,823.3 C306,818 306.5,810 310,806.7 Z" fill="#fff"/>
<path d="M312.0,806.3 C308.8,807.4 308.1,820.1 311.0,824.5 M311.2,805.9 C308.0,807.0 307.3,819.7 310.2,824.1 M315.7,806.4 C312.5,807.8 311.5,821.9 314.4,826.6 M314.9,806.0 C311.7,807.4 310.7,821.5 313.6,826.2 M319.5,806.6 C316.1,808.2 314.9,823.7 317.7,828.7 M318.7,806.1 C315.3,807.8 314.1,823.3 316.9,828.3 M323.2,806.7 C319.8,808.7 318.3,825.6 321.1,830.8 M322.4,806.3 C319.0,808.2 317.5,825.1 320.3,830.4 M326.6,808.2 C323.2,810.3 321.7,827.5 324.5,832.8 M325.8,807.8 C322.4,809.9 321.0,827.1 323.7,832.4 M330.0,809.8 C326.6,811.9 325.2,829.3 328.0,834.7 M329.2,809.4 C325.8,811.5 324.4,828.9 327.2,834.3 M333.4,811.4 C330.1,813.5 328.7,831.2 331.5,836.6 M332.6,810.9 C329.3,813.1 327.9,830.7 330.7,836.2 M336.8,812.9 C333.5,815.1 332.2,833.0 335.0,838.4 M336.0,812.5 C332.7,814.7 331.4,832.6 334.2,838.0 M340.2,814.5 C336.9,816.7 335.7,834.8 338.5,840.3 M339.4,814.1 C336.1,816.3 334.9,834.4 337.7,839.9 M343.5,816.3 C340.2,818.6 339.2,836.7 342.0,842.2 M342.7,815.9 C339.4,818.2 338.4,836.3 341.2,841.8 M346.7,818.2 C343.5,820.4 342.6,838.6 345.5,844.1 M345.9,817.7 C342.7,820.0 341.8,838.1 344.7,843.7 M350.0,820.0 C346.8,822.3 346.1,840.5 349.0,846.0 M349.2,819.6 C346.0,821.8 345.3,840.0 348.2,845.6" stroke-width="0.8"/>
<ellipse cx="354.5" cy="835" rx="6.5" ry="11.5" transform="rotate(22 354.5 835)" fill="#fff"/>
<ellipse cx="355" cy="835.3" rx="5" ry="10" transform="rotate(22 355 835.3)"/>
<path d="M354,830.5 L362,832.5 L365.5,838.5 L364,845 L357,844.5 L353.3,839 Z" fill="#fff"/>
<path d="M357.5,832 L356.5,838 L363,841 M356.5,838 L353.5,839"/>
<path d="M307.8,808 C305,809 302,811 301,813.5 C300.5,816 302,817.5 304,817.5 L308.9,816" fill="#fff"/>
<path d="M290.6,807 L301.5,808.6 M290.8,812.8 L301.2,815"/>
<path d="M292,808 l-1,4.5 M294.5,808.3 l-1,4.7 M297,808.7 l-1,4.8" stroke-width="0.8"/>
<!-- bracket -->
<path d="M366.5,822.2 C365,824 365,828 366,831 L366.5,864 L361.9,866.5 L372.5,874.2 L381.8,868.5 L385,868 L384.8,850 C384,845 382,842 379,840.5 L374,830 C372,826 369,822 366.5,822.2 Z" fill="#fff"/>
<path d="M361.9,866.5 L372.5,874.2 L381.8,868.5 L372,863.5 Z M366.5,864 L372,863.5"/>
<ellipse cx="371.8" cy="868.3" rx="2.2" ry="1.5" fill="#fff"/>
<path d="M366.6,852 L375,856.5 L376.5,860 M366.6,846 L372,848.5 L374.5,853 M377,845 C381,846.5 383,850 383.5,855 M376,840 L381,843.5"/>
<path d="M373,833.5 C375.5,836 377.5,839 378,842.5"/>
<path d="M370.6,800 L370.6,867.8" stroke="#333" stroke-dasharray="7,2.5,2,2.5"/>
<path d="M368.3,786.7 L368.5,798 C369,800 371.8,800 372.2,798 L372.2,786.7" fill="#fff"/>
<path d="M366.8,781.5 C366.5,784 367.5,786.5 370.3,786.8 C373,786.8 374.4,784.5 374.2,782 C373.8,780 372,779.8 370.5,779.8 C368.5,779.8 367.2,780.3 366.8,781.5 Z" fill="#fff"/>
<path d="M374.4,782.5 L376.5,782.7 M368.4,790 L372.2,789.8 M368.5,794 L372.2,793.8"/>
<!-- hoses -->
<path d="M370.6,826 L397,841 L411.3,851.8 M372,828.5 L397,843.5 L411,853.8"/>
<path d="M375,835 L390,845 L400,850.5 M377,832 L384,837"/>
<path d="M423.5,852.8 C427,852.5 430,853 431.7,854.8 C434,857 436,859 437.8,860.9 C440,864 442,867 443.9,869.1 C446,871.5 448,873.5 450,875.2 L460,880.5 L478.9,889.6 L487,895.7"/>
<path d="M423.5,855 C426.5,855 429,856 430.7,857.5 C432.5,859.5 434.5,862 436,864 C438.5,867.5 441,870.5 443.5,872.8 L455.5,877.4"/>
<path d="M423.5,863 L441.9,873.1 L450,878.2 L470,888 L486,896.5 M423.5,860.5 L441.9,870.5 L455,877"/>
<path d="M437,866 L456,880.5 L475,892 M440,870 L458,881"/>
<path d="M413.3,853 C413,850.5 416,849.5 419,849.8 C422,850.2 423.6,851.5 423.6,853.5 L423.4,860.5 C423,862.8 420,863.6 417,863.2 C414.5,862.8 413.2,861.5 413.3,859.5 Z" fill="#fff"/>
<path d="M413.5,853.2 C415,855 421,855.5 423.5,853.8 M418.2,855 L417.8,863"/>
<!-- black wedge -->
<path d="M427.9,847.4 L495.9,784.5 L510.2,790.4 Z" fill="#111" stroke="#111" stroke-width="0.8"/>
<!-- small bolt -->
<path d="M445,848 L450.5,858.5 M447.8,846.8 L452.5,857.5 M450.5,858.5 C451,859.5 452.5,859 452.5,857.5" stroke-width="1.2"/>
<circle cx="444.8" cy="844.8" r="3.9" fill="#fff"/>
<path d="M448.7,845.5 L452,845.8 M441.5,846 C443,847.5 446,848 448.5,846.5"/>
<path d="M448,851 L451,850 M449.5,854 L452,853" stroke-width="1.4"/>
<path d="M452.5,861 L454.5,866 M455.5,869 L456.5,872.5" stroke-dasharray="none"/>
<!-- collars -->
<path d="M441,882 C438,887 438,899 441.5,905 L455.5,910.5 L470,913.5 L472,900 L457,887 Z" fill="#fff"/>
<path d="M441,882 C438,887 438,899 441.5,905 M447.5,885 C444.5,890.5 444.5,902 447.8,907.5 M455,889 C452,894.5 452,905 455.3,910.3 M465.5,895 C463,900 463,908 465.8,912.5"/>
<path d="M447.5,885 L455,889 M447.8,907.5 L455.3,910.3 M455.3,910.3 L468.7,913.1 M457,890 L465.5,895"/>
<path d="M449,892 L453.5,894.3 M449,899 L453.5,901" stroke-width="0.8"/>
<!-- lugs -->
<path d="M470,918.5 C467.5,924 467.5,931 470.5,935 C474,938 482,938.5 488,936.5 L490,928 L485,919 Z" fill="#fff"/>
<ellipse cx="476.3" cy="926.3" rx="2.6" ry="2.2" fill="#fff"/>
<path d="M472,921 C474,919.5 478,919.5 481,921.5"/>
<path d="M491.1,926.5 C489.5,931 490.5,935.5 494.5,937.5 C498,938.5 502,937.5 503.3,935.5 L503.5,928" fill="#fff"/>
<ellipse cx="498" cy="929" rx="2" ry="1.6"/>
<!-- valve lower body and ears -->
<path d="M484,886 L490,882.5 L495,885 L497.5,892 L501.3,890.6 L501.3,910 L496.2,912 L492.1,908 L488,899 L484.5,897.5 Z" fill="#fff"/>
<path d="M490,882.5 L488.5,889 L484.5,891 M488.5,889 L493.5,893.5"/>
<path d="M501.3,890.6 L501.3,910 C505,913 510,914.5 514.5,914.1 L517.6,893.7" fill="#fff"/>
<path d="M517.6,893.7 L521,893.7 C524,896 525.5,899 525.7,901.5 L522.5,904.9 L518,905.5 L515.5,903" fill="#fff"/>
<path d="M492.1,908 C494,913 497,916 503,918.5 C508,920.5 516,921 521,919.5 C524,917.5 524.7,914 524.5,910 L521.5,907 L516,909" fill="#fff"/>
<path d="M495,912 C499,915.5 506,917 512,916.5 M511,916.5 L513,920.8"/>
<path d="M496.2,912 L500,913"/>
<!-- valve top cylinder -->
<path d="M499.3,875.4 L501.3,885.6 C504,890 509,892 512.5,891.7 C518,891.5 524,890 526.8,887.6 L529.3,880.5" fill="#fff"/>
<path d="M500.5,880.5 C504,885 510,886.8 514,886.6 C519,886.3 525,884.5 528.5,881.5"/>
<path d="M501.3,885.6 L501.5,891.5 C505,895 511,896 515,895.5 C519,895 523,893.5 525.8,891.5 L526.8,887.6" fill="#fff"/>
<ellipse cx="513.7" cy="871.8" rx="15.5" ry="11.6" transform="rotate(12 513.7 871.8)" fill="#fff"/>
<ellipse cx="514" cy="871" rx="12" ry="8.8" transform="rotate(12 514 871)"/>
<ellipse cx="507.5" cy="870.5" rx="2.6" ry="4" transform="rotate(10 507.5 870.5)"/>
<ellipse cx="521.5" cy="872" rx="2.6" ry="4" transform="rotate(10 521.5 872)"/>
<ellipse cx="514.5" cy="876.5" rx="4" ry="2.2" transform="rotate(10 514.5 876.5)"/>
<path d="M512.3,866.5 L512.3,872 C513,873.5 516,873.5 516.8,872 L516.8,866.5" fill="#fff"/>
<ellipse cx="514.55" cy="866.3" rx="2.3" ry="1.3" fill="#fff"/>
<!-- right boot -->
<path d="M517.8,920.6 L543.7,933 L556.7,943.3 L564.5,952.4 L550.2,965.4 L530.7,953.7 L512.6,940.7 C509.5,934 511,925 517.8,920.6 Z" fill="#fff"/>
<path d="M514.5,921.5 C511,926 510,935 513.5,940.5 C514.5,942 516,943 518,942.5"/>
<path d="M519.0,921.2 C515.8,922.8 515.1,938.1 518.0,943.0 M518.2,920.8 C515.0,922.4 514.3,937.7 517.2,942.6 M522.6,922.9 C519.3,924.7 518.2,940.5 521.0,945.5 M521.8,922.5 C518.5,924.2 517.4,940.1 520.2,945.1 M526.2,924.6 C522.7,926.5 521.2,942.9 524.0,948.0 M525.4,924.2 C522.0,926.1 520.4,942.5 523.2,947.6 M529.7,926.3 C526.2,928.3 524.3,945.3 527.0,950.6 M528.9,925.9 C525.4,927.9 523.5,944.9 526.2,950.1 M533.3,928.0 C529.7,930.1 527.4,947.7 530.0,953.1 M532.5,927.6 C528.9,929.7 526.6,947.3 529.2,952.7 M536.9,929.7 C533.3,931.9 530.7,949.7 533.3,955.2 M536.1,929.3 C532.5,931.5 529.9,949.3 532.5,954.8 M540.5,931.5 C536.8,933.7 534.1,951.6 536.7,957.1 M539.7,931.0 C536.0,933.2 533.4,951.2 535.9,956.7 M544.0,933.2 C540.3,935.5 537.6,953.6 540.0,959.1 M543.2,932.8 C539.5,935.1 536.8,953.2 539.2,958.7 M547.0,935.8 C543.4,938.0 540.9,955.6 543.4,961.1 M546.2,935.4 C542.6,937.5 540.1,955.2 542.6,960.7 M550.0,938.4 C546.4,940.5 544.2,957.7 546.8,963.0 M549.2,938.0 C545.6,940.0 543.4,957.3 546.0,962.6 M553.0,941.0 C549.5,943.0 547.5,959.8 550.2,965.0 M552.2,940.6 C548.7,942.5 546.7,959.3 549.4,964.6" stroke-width="0.8"/>
<ellipse cx="559.3" cy="959.5" rx="5.2" ry="6.5" transform="rotate(25 559.3 959.5)" fill="#fff"/>
<ellipse cx="560.5" cy="960" rx="3.6" ry="5" transform="rotate(25 560.5 960)" fill="#fff"/>
<path d="M557.5,955.5 C556,958 556.5,962 558.5,964" stroke-width="1.6"/>
<!-- right tie rod end (bottom) -->
<path d="M563.5,962.5 L570.4,967.5 M562,966.5 L568.3,974.6" />
<path d="M565,964 l-2,4.5 M567,965.5 l-2,4.8 M569,967 l-2,5" stroke-width="1.1"/>
<path d="M570.4,967.5 L583.6,975.6 L590.7,982.8 L596.9,1001.1 L607,1010.3 L621.3,1017.4 L622,1025 L620.3,1025.6 L604,1018.4 L591.8,1006.2 L582.6,987.9 L575.5,983.8 L568.3,974.6 Z" fill="#fff"/>
<path d="M573,968.5 C571,971.5 571.5,975 574,977.5 M577,971.5 C575,974.5 575.5,978.5 578.5,981 M582,975 C579.5,977.5 579.5,982 582.6,985 M583.6,975.6 L587,983.5 L582.6,987.9"/>
<path d="M596.9,1001.1 L591.8,1006.2 M606,1009.5 L602.5,1017.5 M608,1010.5 L604.5,1018.5 M613,1013 L611.5,1021.5" />
<path d="M615,1014.5 C613.5,1017 614,1021 616.5,1023"/>
<path d="M621.3,1012 C619.5,1015 619.5,1028 622,1032 C625,1035.5 632,1035.5 635.5,1032.5 C637.5,1029 637.5,1017 635.5,1013 C632.5,1009.5 624.5,1009 621.3,1012 Z" fill="#fff"/>
<path d="M620.5,1018 C624,1021 632,1021.5 636.8,1018.5 M620.5,1024 C624,1027 632,1027.5 637,1024.5"/>
<path d="M621.8,1012.5 C623,1011 625,1010.3 626.5,1010.5 L626.4,1005.8 C627,1004 630.8,1004 631.5,1005.5 L631.5,1010.5 C633,1010.8 635,1012 635.5,1013"/>
<ellipse cx="629" cy="1005.4" rx="2.6" ry="1.3"/>
<!-- cotter pin -->
<path d="M614.2,956.3 L636.5,969 M615.2,954.8 L637.5,967.5 M614.2,956.3 C613.5,955.5 614,954.5 615.2,954.8"/>
<ellipse cx="638.8" cy="969" rx="3.4" ry="2.5" transform="rotate(30 638.8 969)" fill="#fff"/>
<path d="M636.5,969 L639.5,971.8"/>
<!-- castle nut -->
<path d="M621,985.5 L624,983 L633,983 L636.6,986.5 L636.6,994.5 L633.5,998 L624.5,998.1 L620.5,994.5 Z" fill="#fff"/>
<path d="M620.8,990.3 L636.6,990.6 M628.2,983 L628.2,987.5 M628.2,993 L628.2,998 M624.3,983.5 L624.3,987.5 M632.6,983.5 L632.6,987.5 M624.3,993.5 L624.3,997.5 M632.6,993.5 L632.6,997.5"/>
<path d="M625.5,986 L631.5,986" stroke-width="1.3"/>
<!-- left tie rod end (bottom) -->
<path d="M211.7,785 L218.3,788.3 L231.7,790.6 L251.7,795 L267.2,797.2 L282.8,801.7 L291.7,806.1 L291.7,812.8 L285,811.7 L273.9,809.4 L262.8,805 L238.3,799.4 L221.7,797.2 L212.8,791.7 Z" fill="#fff"/>
<path d="M214,787.5 L222,790.5 L230,794 L226,796 L216,792 Z M232.5,792.5 L240,794.5 L242,798 L233,797 Z M255,797.5 L266,799 L267,804 L258,802.5 Z M270.5,799.5 L273,800 L272.5,806 L270,805.5 Z M276,801 L281,802 L282,806.5 L277.5,805.5 Z M283,806.5 L286,807.5 L286,809.5 L283.5,809 Z" fill="#ffec00" stroke="none"/>
<path d="M231.7,790.6 L230.5,799 M268.5,797.5 L268,806.2 M274.5,798.5 L274,809.4 M276.2,799.5 L279.5,800.5 L282.5,804.5 L281.5,811 M286,803.5 L289,805.5 L289.5,811.8"/>
<path d="M197.6,777 C196.5,781 197,786 199,788.5 C202,791 208,791.5 212.8,790 L212.5,777" fill="#fff"/>
<path d="M198.2,783 C201.5,786.5 208.5,786.5 212.5,784 M200,787.5 L205,790"/>
<path d="M199.3,773.5 L199.6,779.5 C202,782.5 208.5,783 211.5,780 L211.7,773.5 Z" fill="#fff"/>
<path d="M200.3,775.5 C203,778 208,778.5 210.6,776.3 L210.5,779.6 C208,781.5 203,781.5 200.6,779.3 Z" fill="#ffec00" stroke="none"/>
<path d="M199.4,771.5 C199.5,769.5 202,768.3 205.5,768.3 C209,768.3 211.6,769.5 211.7,771.5 L211.7,774 C209,776.3 202,776.3 199.4,774 Z" fill="#444"/>
<path d="M202.5,769 L202.5,763.5 C203,762.3 206,762.3 206.5,763.5 L206.5,769" fill="#fff"/>
</g>
</g>
<g id="frame" fill="none" stroke="#6a6a6a" stroke-width="1.1">
<polyline points="189.4,597.8 189.4,79 891.8,79 891.8,888 693.4,888 189.4,597.8"/>
</g>
<g id="leaders" stroke="#555" stroke-width="1.1" fill="none">
<path d="M541.3,64V79"/>
<path d="M633.3,129.2H658"/>
<path d="M618.9,171.8H642.3"/>
<path d="M343.2,238.3H368.7"/>
<path d="M334.6,288.2H359.5"/>
<path d="M574.6,287.3H599.5"/>
<path d="M384.4,337.2V360.6"/>
<path d="M447.2,373.5V397.6"/>
<path d="M340.6,418.9V445"/>
<path d="M658.2,484.2V509.6"/>
<path d="M677.5,554.6V579"/>
<path d="M579.2,548V572.3"/>
<path d="M626.5,582V606.7"/>
<path d="M360.7,625V651.4"/>
<path d="M559.7,654.7V680.6"/>
<path d="M504.9,683V705.8"/>
<path d="M652.2,708.3V733"/>
<path d="M598.5,718.5V746.2"/>
<path d="M709.3,636.7V670"/>
<path d="M766.6,704V727.8"/>
<path d="M763.9,815.4V845.9"/>
</g>
<g id="labels" font-size="18.5" fill="#3a3a3a" filter="url(#gs)">
<text x="517.4" y="59.8">57700</text>
<text x="660.1" y="138">56516A</text>
<text x="648.7" y="180.8">56517B</text>
<text x="369.7" y="246.7">57787</text>
<text x="362.1" y="296.2">57710B</text>
<text x="603.1" y="296">57716D</text>
<text x="360.4" y="331.8">57780</text>
<text x="423.5" y="369.4">57776</text>
<text x="308.4" y="462">57711C</text>
<text x="635" y="526.3">57719</text>
<text x="653.8" y="549.3">57774</text>
<text x="554.8" y="590.5">57724</text>
<text x="600.9" y="624.2">57775</text>
<text x="331.5" y="670">56820J</text>
<text x="534.6" y="651.7">57775</text>
<text x="479.2" y="724.5">57774</text>
<text x="627.4" y="705.3">57753</text>
<text x="675.1" y="690">1472AK</text>
<text x="573.8" y="763.7">57724</text>
<text x="735.7" y="747.8">56820H</text>
<text x="733.3" y="866.3">57710C</text>
</g>

</svg>
</body></html>
